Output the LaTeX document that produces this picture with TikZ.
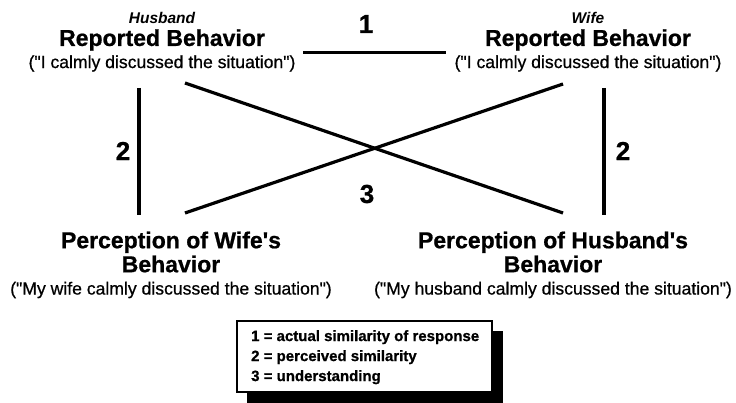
\documentclass[tikz,border=0pt]{standalone}
\usepackage{fontspec}
\setmainfont{Liberation Sans}[BoldFeatures={RawFeature={embolden=0.8}}]
\newfontfamily\subfont{Liberation Sans}[RawFeature={embolden=0.7}]
\newcommand{\dq}{\textquotedbl}
\newcommand{\sq}{\textquotesingle}
\begin{document}
\begin{tikzpicture}[x=1pt,y=-1pt,
  title/.style={font=\bfseries\fontsize{23}{24}\selectfont, inner sep=0pt, align=center},
  sub/.style={font=\subfont\fontsize{17.6}{19}\selectfont, inner sep=0pt},
  who/.style={font=\bfseries\itshape\fontsize{15.5}{17}\selectfont, inner sep=0pt},
  num/.style={font=\bfseries\fontsize{26}{28}\selectfont, inner sep=0pt},
  link/.style={line width=3.2pt},
  legend/.style={font=\bfseries\fontsize{15}{20}\selectfont, align=left, inner sep=0pt}]
\useasboundingbox (0,0) rectangle (736,403);
% top left
\node[who] (hlab) at (162,17.5) {Husband};
\node[title] (hbeh) at (162,40) {Reported Behavior};
\node[sub] (hsub) at (162,63.5) {(\dq I calmly discussed the situation\dq)};
% top right
\node[who] (wlab) at (588,17.5) {Wife};
\node[title] (wbeh) at (588,40) {Reported Behavior};
\node[sub] (wsub) at (588,63.5) {(\dq I calmly discussed the situation\dq)};
% bottom left
\node[title] (hper) at (171,252) {Perception of Wife\sq s\\Behavior};
\node[sub] (hpsub) at (171,290) {(\dq My wife calmly discussed the situation\dq)};
% bottom right
\node[title] (wper) at (553,252) {Perception of Husband\sq s\\Behavior};
\node[sub] (wpsub) at (553,290) {(\dq My husband calmly discussed the situation\dq)};
% numbers
\node[num] (n1) at (366,24) {1};
\node[num] (n2l) at (123,151) {2};
\node[num] (n2r) at (623,151) {2};
\node[num] (n3) at (367,194) {3};
% line endpoints
\coordinate (a1) at (303,52.5); \coordinate (b1) at (446,52.5);
\coordinate (a2) at (139,88); \coordinate (b2) at (139,215);
\coordinate (a3) at (604,88); \coordinate (b3) at (604,215);
\coordinate (a4) at (185,83); \coordinate (b4) at (563,213);
\coordinate (a5) at (563,84); \coordinate (b5) at (185,213);
\draw[link] (a1) -- (b1);
\draw[link] (a2) -- (b2);
\draw[link] (a3) -- (b3);
\draw[link] (a4) -- (b4);
\draw[link] (a5) -- (b5);
% legend
\fill (247,331) rectangle (503,403);
\draw[line width=2pt, fill=white] (237,321) rectangle (492,392);
\node[legend, anchor=north west] (leg) at (251,330) {1 = actual similarity of response\\2 = perceived similarity\\3 = understanding};
\end{tikzpicture}
\end{document}
